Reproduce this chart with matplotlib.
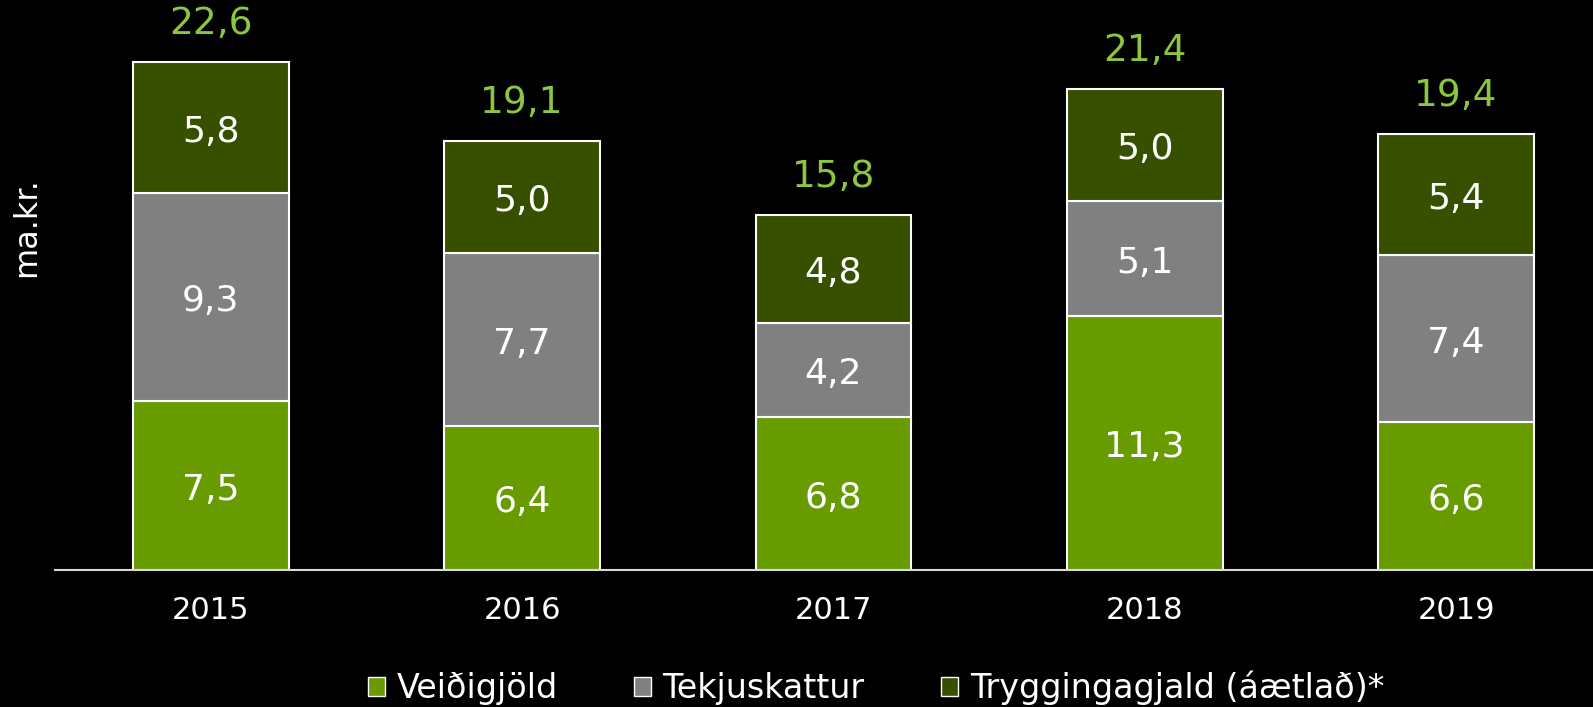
import matplotlib
matplotlib.use("Agg")
import matplotlib.pyplot as plt
from matplotlib.patches import Patch
import numpy as np

years = ["2015", "2016", "2017", "2018", "2019"]
veidigjold = [7.5, 6.4, 6.8, 11.3, 6.6]
tekjuskattur = [9.3, 7.7, 4.2, 5.1, 7.4]
tryggingagjald = [5.8, 5.0, 4.8, 5.0, 5.4]
totals = [22.6, 19.1, 15.8, 21.4, 19.4]
series_names = ["Veiðigjöld", "Tekjuskattur", "Tryggingagjald (áætlað)*"]
colors = ["#679B00", "#808080", "#375000"]

def fmt(v):
    return f"{v:.1f}".replace(".", ",")

plt.rcParams['font.family'] = ['DejaVu Sans']
W, H = 1593, 707
fig = plt.figure(figsize=(W/100, H/100), dpi=100)
fig.patch.set_facecolor("black")
ax = fig.add_axes([55/W, 1-570/H, 1-55/W, 570/H])
ax.set_facecolor("black")

x = np.arange(len(years))
bottom = np.zeros(len(years))
for vals, col in zip([veidigjold, tekjuskattur, tryggingagjald], colors):
    ax.bar(x, vals, width=0.5, bottom=bottom, color=col,
           edgecolor="white", linewidth=1.5, zorder=2)
    for xi, b, v in zip(x, bottom, vals):
        ax.annotate(fmt(v), (xi, b + v/2), xytext=(0, -3), textcoords="offset points",
                    ha="center", va="center", color="white", fontsize=26)
    bottom = bottom + np.array(vals)

for xi, t in zip(x, totals):
    ax.text(xi, t + 1.7, fmt(t), ha="center", va="center",
            color="#8CC63F", fontsize=27)

ax.set_xlim(-0.5, 4.44)
ax.set_ylim(0, 570/22.47)
ax.set_xticks(x)
ax.set_xticklabels(years, color="white", fontsize=22)
ax.tick_params(axis="x", length=0, pad=19)
ax.set_yticks([])
for s in ["top", "right", "left"]:
    ax.spines[s].set_visible(False)
ax.spines["bottom"].set_color("#d9d9d9")
ax.spines["bottom"].set_linewidth(1.5)
ax.spines["bottom"].set_zorder(3)

fig.text(27/W, 1-227/H, "ma.kr.", rotation=90, ha="center", va="center",
         color="white", fontsize=23)

handles = [Patch(facecolor=c, edgecolor="white", linewidth=1) for c in colors]
leg = fig.legend(handles, series_names, loc="center", bbox_to_anchor=(876/W, 1-688/H),
                 ncol=3, frameon=False, fontsize=24, labelcolor="white",
                 handlelength=0.5, handleheight=0.5, handletextpad=0.35,
                 columnspacing=2.3, borderpad=0)

fig.savefig("out.png", dpi=100, facecolor="black")
